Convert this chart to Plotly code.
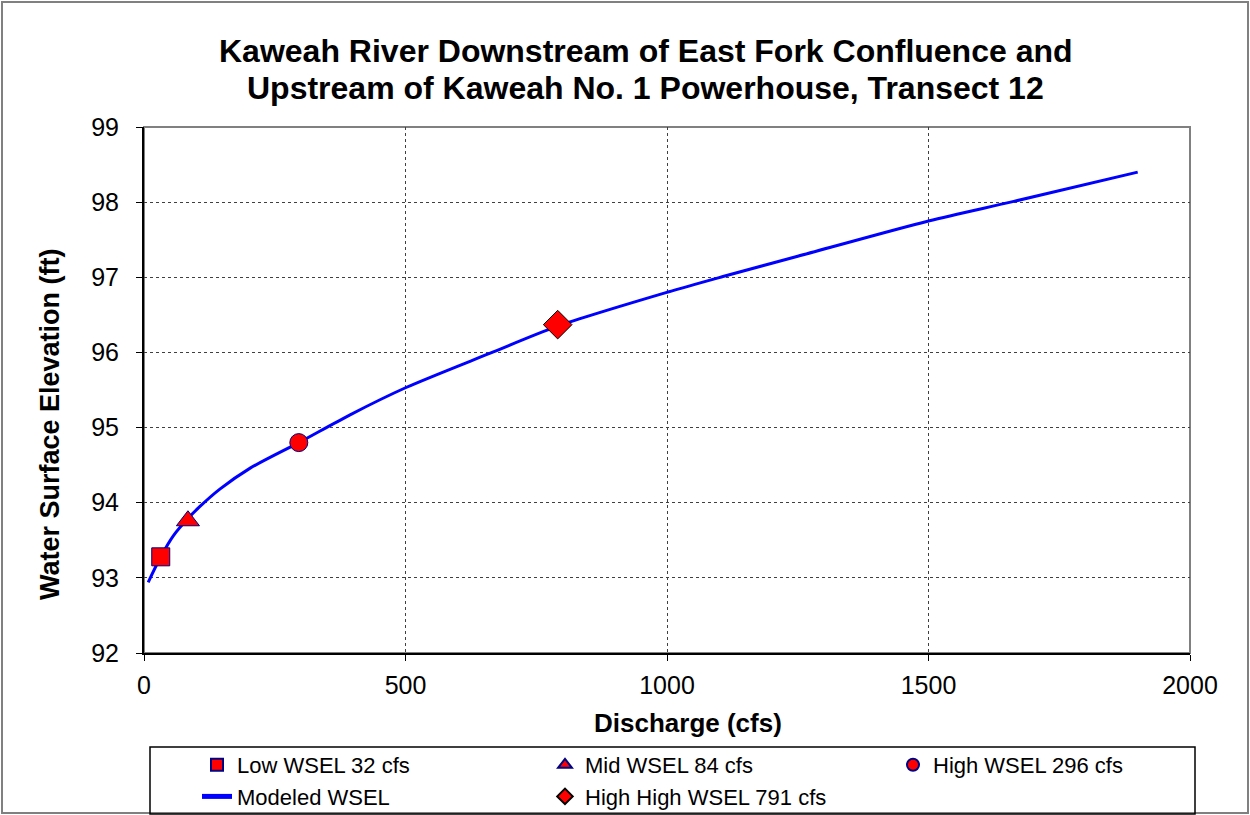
import plotly.graph_objects as go

# ---- data ----
modeled_q = [8, 32, 56, 84, 107, 145, 203, 296, 394, 500, 662, 791, 1000, 1107, 1250, 1500, 1663, 1900]
modeled_wsel = [92.94, 93.28, 93.56, 93.79, 93.95, 94.18, 94.46, 94.80, 95.17, 95.53, 95.99, 96.35,
                96.80, 97.01, 97.28, 97.75, 98.01, 98.40]

low_q = [32]
low_wsel = [93.28]
mid_q = [84]
mid_wsel = [93.76]
high_q = [296]
high_wsel = [94.80]
highhigh_q = [791]
highhigh_wsel = [96.37]

title_lines = ["Kaweah River Downstream of East Fork Confluence and",
               "Upstream of Kaweah No. 1 Powerhouse, Transect 12"]
x_ticks = [0, 500, 1000, 1500, 2000]
y_ticks = [92, 93, 94, 95, 96, 97, 98, 99]

# ---- layout geometry (pixels) ----
W, H = 1250, 815
PL, PR, PT, PB = 144, 1190, 127, 653
FONT = "Liberation Sans, Arial, sans-serif"


def px_x(x):
    return (x - PL) / (PR - PL)


def px_y(y):
    return (PB - y) / (PB - PT)


fig = go.Figure()
mk_line = dict(color="#000080", width=1)
fig.add_trace(go.Scatter(x=modeled_q, y=modeled_wsel, mode="lines", name="Modeled WSEL", legendrank=4,
                         line=dict(color="#0000FF", width=3, shape="spline", smoothing=0.8)))
fig.add_trace(go.Scatter(x=low_q, y=low_wsel, mode="markers", name="Low WSEL 32 cfs", legendrank=1,
                         marker=dict(symbol="square", size=18, color="#FF0000", line=mk_line)))
fig.add_trace(go.Scatter(x=mid_q, y=mid_wsel, mode="markers", name="Mid WSEL 84 cfs", legendrank=2,
                         marker=dict(symbol="triangle-up", size=20, color="#FF0000", line=mk_line)))
fig.add_trace(go.Scatter(x=high_q, y=high_wsel, mode="markers", name="High WSEL 296 cfs", legendrank=3,
                         marker=dict(symbol="circle", size=18, color="#FF0000", line=mk_line)))
fig.add_trace(go.Scatter(x=highhigh_q, y=highhigh_wsel, mode="markers", name="High High WSEL 791 cfs",
                         legendrank=5,
                         marker=dict(symbol="diamond", size=22, color="#FF0000",
                                     line=dict(color="#000000", width=1))))

shapes = [
    # outer chart border
    dict(type="rect", xref="paper", yref="paper", x0=px_x(2), x1=px_x(W - 2), y0=px_y(2), y1=px_y(H - 2),
         line=dict(color="#808080", width=2), layer="below"),
    # plot area border
    dict(type="rect", xref="paper", yref="paper", x0=0, x1=1, y0=0, y1=1,
         line=dict(color="#808080", width=2), layer="below"),
    # legend box
    dict(type="rect", xref="paper", yref="paper", x0=px_x(150), x1=px_x(1195), y0=px_y(747), y1=px_y(814),
         line=dict(color="#000000", width=1.5), layer="below"),
]

annotations = [
    dict(text="<b>" + title_lines[0] + "</b>", xref="paper", yref="paper", x=px_x(645.5), y=px_y(51),
         showarrow=False, font=dict(family=FONT, size=32, color="black"), xanchor="center", yanchor="middle"),
    dict(text="<b>" + title_lines[1] + "</b>", xref="paper", yref="paper", x=px_x(645.5), y=px_y(88),
         showarrow=False, font=dict(family=FONT, size=32, color="black"), xanchor="center", yanchor="middle"),
    dict(text="<b>Discharge (cfs)</b>", xref="paper", yref="paper", x=px_x(687.5), y=px_y(723),
         showarrow=False, font=dict(family=FONT, size=26, color="black"), xanchor="center", yanchor="middle"),
    dict(text="<b>Water Surface Elevation (ft)</b>", xref="paper", yref="paper", x=px_x(50), y=px_y(424),
         showarrow=False, textangle=-90, font=dict(family=FONT, size=27, color="black"),
         xanchor="center", yanchor="middle"),
]

fig.update_layout(
    width=W, height=H,
    margin=dict(l=PL, r=W - PR, t=PT, b=H - PB, autoexpand=False),
    paper_bgcolor="white", plot_bgcolor="white",
    font=dict(family=FONT, color="black"),
    xaxis=dict(range=[0, 2000], tickvals=x_ticks, showgrid=True, gridcolor="#404040", griddash="dot",
               gridwidth=1, showline=True, linecolor="black", linewidth=2, ticks="outside", ticklen=6,
               tickcolor="black", tickfont=dict(family=FONT, size=25, color="black"), zeroline=False,
               ticklabelstandoff=3),
    yaxis=dict(range=[92, 99], tickvals=y_ticks, showgrid=True, gridcolor="#404040", griddash="dot",
               gridwidth=1, showline=True, linecolor="black", linewidth=2, ticks="outside", ticklen=6,
               tickcolor="black", tickfont=dict(family=FONT, size=25, color="black"), zeroline=False,
               ticklabelstandoff=12),
    legend=dict(orientation="h", x=px_x(197), y=px_y(744), xanchor="left", yanchor="top",
                entrywidth=303, entrywidthmode="pixels", traceorder="normal",
                font=dict(family=FONT, size=22, color="black"), bgcolor="rgba(0,0,0,0)",
                itemsizing="constant"),
    shapes=shapes,
    annotations=annotations,
    showlegend=True,
)

fig.write_html("out.html", config={"displayModeBar": False},
               post_script="document.body.style.margin='0';")
